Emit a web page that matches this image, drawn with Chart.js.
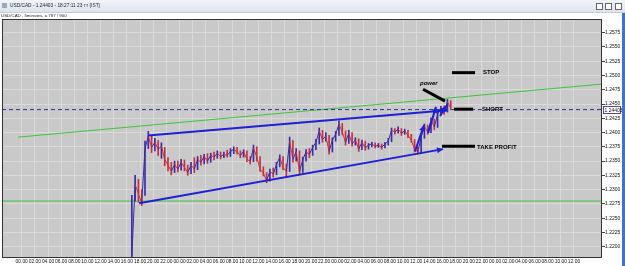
<!DOCTYPE html>
<html>
<head>
<meta charset="utf-8">
<script src="https://cdn.jsdelivr.net/npm/chart.js@4.4.1/dist/chart.umd.min.js"></script>
<style>
  html, body { margin:0; padding:0; background:#fff; }
  #wrap { position:relative; width:625px; height:266px; overflow:hidden; background:#fff; font-family:"Liberation Sans", Arial, sans-serif; }
  #chart { position:absolute; left:0; top:0; }
  #titlebar { position:absolute; left:0; top:0; width:625px; height:12px; background:linear-gradient(#f1f4f9,#dde4ee); border-bottom:1px solid #c4ccd8; font-size:4.8px; line-height:12px; color:#222; }
  #titlebar .ico { position:absolute; left:2px; top:3px; width:5px; height:5px; background:#9ab; }
  #titlebar .txt { position:absolute; left:10px; top:0; }
  #titlebar .btn { position:absolute; top:3px; width:5px; height:5px; border:1px solid #666; background:#fff; }
  #subtitle { position:absolute; left:1px; top:13px; font-size:4.4px; line-height:6px; color:#222; }
  #frame { position:absolute; right:0; top:13px; width:3px; height:253px; background:#3f72c8; }
</style>
</head>
<body>
<div id="wrap">
  <canvas id="chart" width="625" height="266"></canvas>
  <div id="titlebar">
    <div class="ico"></div>
    <div class="txt">USD/CAD - 1.24403 - 18:27:11 23 тт (IST)</div>
    <div class="btn" style="left:596px"></div>
    <div class="btn" style="left:605px"></div>
    <div class="btn" style="left:615px"></div>
  </div>
  <div id="subtitle">USD/CAD , 5minutes, a 787 / 900</div>
  <div id="frame"></div>
</div>
<script>
// time axis in hours, ticks every 2 hours
const hourMin = -3;
const hourMax = 88.26;
const priceMin = 1.2182;
const priceMax = 1.2599;

// price sampled every half hour: close, low, high
const priceStartHour = 16.75;
const priceStepHours = 0.5;
const closePrices = [
  1.2184, 1.2309, 1.2292, 1.2277, 1.2371, 1.2394, 1.2374, 1.2383, 1.2371, 1.2376,
  1.2353, 1.2343, 1.2332, 1.2344, 1.2336, 1.2348, 1.2339, 1.2330, 1.2343, 1.2336,
  1.2353, 1.2348, 1.2358, 1.2350, 1.2360, 1.2357, 1.2364, 1.2358, 1.2362, 1.2360,
  1.2367, 1.2371, 1.2366, 1.2360, 1.2367, 1.2353, 1.2350, 1.2373, 1.2357, 1.2336,
  1.2329, 1.2316, 1.2332, 1.2327, 1.2344, 1.2357, 1.2339, 1.2332, 1.2385, 1.2353,
  1.2367, 1.2332, 1.2353, 1.2366, 1.2362, 1.2374, 1.2383, 1.2403, 1.2388, 1.2394,
  1.2367, 1.2387, 1.2397, 1.2415, 1.2401, 1.2383, 1.2399, 1.2380, 1.2387, 1.2371,
  1.2383, 1.2373, 1.2378, 1.2380, 1.2376, 1.2378, 1.2374, 1.2380, 1.2385, 1.2404,
  1.2401, 1.2406, 1.2399, 1.2403, 1.2395, 1.2387, 1.2371, 1.2366, 1.2392, 1.2411,
  1.2401, 1.2422, 1.2410, 1.2432, 1.2441, 1.2436, 1.2454, 1.2443
];
const lowPrices = [
  1.2182, 1.2280, 1.2278, 1.2272, 1.2290, 1.2372, 1.2365, 1.2368, 1.2360, 1.2355,
  1.2342, 1.2333, 1.2326, 1.2330, 1.2331, 1.2334, 1.2333, 1.2325, 1.2328, 1.2330,
  1.2335, 1.2343, 1.2345, 1.2346, 1.2348, 1.2352, 1.2355, 1.2354, 1.2356, 1.2357,
  1.2358, 1.2363, 1.2362, 1.2356, 1.2357, 1.2349, 1.2345, 1.2349, 1.2350, 1.2332,
  1.2324, 1.2312, 1.2315, 1.2322, 1.2326, 1.2340, 1.2335, 1.2322, 1.2332, 1.2348,
  1.2350, 1.2326, 1.2330, 1.2350, 1.2356, 1.2360, 1.2370, 1.2380, 1.2383, 1.2385,
  1.2362, 1.2366, 1.2385, 1.2395, 1.2396, 1.2378, 1.2381, 1.2376, 1.2378, 1.2367,
  1.2370, 1.2369, 1.2371, 1.2375, 1.2373, 1.2374, 1.2371, 1.2373, 1.2378, 1.2384,
  1.2397, 1.2399, 1.2395, 1.2397, 1.2391, 1.2383, 1.2366, 1.2362, 1.2364, 1.2390,
  1.2397, 1.2400, 1.2405, 1.2409, 1.2430, 1.2432, 1.2436, 1.2440
];
const highPrices = [
  1.2290, 1.2325, 1.2318, 1.2300, 1.2385, 1.2402, 1.2395, 1.2390, 1.2386, 1.2382,
  1.2374, 1.2356, 1.2348, 1.2350, 1.2350, 1.2353, 1.2352, 1.2343, 1.2348, 1.2356,
  1.2358, 1.2360, 1.2362, 1.2363, 1.2364, 1.2366, 1.2368, 1.2366, 1.2366, 1.2369,
  1.2372, 1.2375, 1.2374, 1.2368, 1.2370, 1.2368, 1.2358, 1.2378, 1.2375, 1.2358,
  1.2340, 1.2330, 1.2336, 1.2338, 1.2348, 1.2361, 1.2358, 1.2345, 1.2392, 1.2386,
  1.2372, 1.2368, 1.2357, 1.2370, 1.2372, 1.2378, 1.2388, 1.2408, 1.2404, 1.2400,
  1.2395, 1.2391, 1.2402, 1.2420, 1.2416, 1.2403, 1.2404, 1.2400, 1.2391, 1.2389,
  1.2387, 1.2385, 1.2381, 1.2383, 1.2382, 1.2381, 1.2380, 1.2383, 1.2390, 1.2408,
  1.2407, 1.2410, 1.2407, 1.2406, 1.2404, 1.2397, 1.2388, 1.2375, 1.2396, 1.2415,
  1.2413, 1.2426, 1.2424, 1.2436, 1.2446, 1.2447, 1.2458, 1.2456
];

const lastPrice = 1.24403;
const supportLevel = 1.2280;

// trend lines: [hourStart, priceStart, hourEnd, priceEnd]
const greenTrend = [-0.55, 1.2392, 88.26, 1.2485];
const upperChannel = [19.22, 1.2395, 64.69, 1.2439];
const lowerChannel = [17.85, 1.2276, 64.08, 1.2371];
const blueArrows = [
  [59.82, 1.2367, 61.19, 1.2413],
  [61.80, 1.2399, 63.01, 1.2445],
  [63.62, 1.2429, 64.69, 1.2448]
];
const blackMarks = [
  [65.45, 1.2505, 68.95, 1.2505],
  [65.75, 1.2441, 68.65, 1.2441],
  [63.93, 1.2376, 68.95, 1.2376],
  [61.04, 1.2476, 64.38, 1.2455]
];
const noteLabels = ['STOP', 'SHORT', 'TAKE PROFIT', 'power'];
const noteHours = [70.16, 70.0, 69.25, 60.58];
const notePrices = [1.2505, 1.2441, 1.2374, 1.2487];

const UP = '#3a2ca6', DOWN = '#c8303a';
const seg = s => [{x:s[0], y:s[1]}, {x:s[2], y:s[3]}];
const priceHour = i => priceStartHour + i * priceStepHours;

const datasets = [];
blackMarks.forEach(s => datasets.push({data: seg(s), borderColor:'#000', borderWidth:3, order:0}));
blueArrows.forEach(s => datasets.push({data: seg(s), borderColor:'#1f1fd6', borderWidth:2, arrow:true, order:1}));
datasets.push({data: seg(upperChannel), borderColor:'#1f1fd6', borderWidth:2, arrow:true, order:1});
datasets.push({data: seg(lowerChannel), borderColor:'#1f1fd6', borderWidth:2, arrow:true, order:1});
datasets.push({
  data: closePrices.map((p, i) => ({x: priceHour(i), y: p})),
  borderWidth:1, borderColor:UP, order:2,
  segment: { borderColor: c => c.p1.parsed.y >= c.p0.parsed.y ? UP : DOWN }
});
datasets.push({
  type:'bar', order:2, barThickness:1,
  data: lowPrices.map((lo, i) => ({x: priceHour(i), y: [lo, highPrices[i]]})),
  backgroundColor: c => (c.dataIndex > 0 && closePrices[c.dataIndex] < closePrices[c.dataIndex - 1]) ? DOWN : UP
});
datasets.push({data: seg([hourMin, lastPrice, hourMax, lastPrice]), borderColor:'#2c2c9a', borderWidth:1, borderDash:[4,3], order:3});
datasets.push({data: seg(greenTrend), borderColor:'#3fc43f', borderWidth:1, order:4});
datasets.push({data: seg([hourMin, supportLevel, hourMax, supportLevel]), borderColor:'#3fc43f', borderWidth:1, order:4});

const bgPlugin = {
  id:'plotBg',
  beforeDraw(chart){
    const {ctx, chartArea:a} = chart;
    ctx.save();
    ctx.fillStyle = '#c9c9c9';
    ctx.fillRect(a.left, a.top, a.right - a.left, a.bottom - a.top);
    ctx.restore();
  },
  afterDraw(chart){
    const {ctx, chartArea:a, scales} = chart;
    ctx.save();
    ctx.strokeStyle = '#333';
    ctx.lineWidth = 1;
    ctx.strokeRect(a.left + 0.5, a.top + 0.5, a.right - a.left - 1, a.bottom - a.top);
    // current price box on the axis
    const y = Math.round(scales.y.getPixelForValue(lastPrice));
    ctx.fillStyle = '#fff';
    ctx.fillRect(a.right + 1, y - 4, 18, 8);
    ctx.strokeStyle = '#5a3c9a';
    ctx.strokeRect(a.right + 1.5, y - 3.5, 17, 7);
    ctx.fillStyle = '#111';
    ctx.font = '5px "Liberation Sans"';
    ctx.textBaseline = 'middle';
    ctx.fillText(lastPrice.toFixed(5), a.right + 2.5, y + 0.5);
    ctx.restore();
  }
};

const arrowPlugin = {
  id:'arrows',
  afterDatasetsDraw(chart){
    const ctx = chart.ctx;
    chart.data.datasets.forEach((ds, i) => {
      if (!ds.arrow) return;
      const pts = chart.getDatasetMeta(i).data;
      const a = pts[pts.length - 2], b = pts[pts.length - 1];
      const ang = Math.atan2(b.y - a.y, b.x - a.x);
      const L = 6, W = 3;
      ctx.save();
      ctx.fillStyle = ds.borderColor;
      ctx.beginPath();
      ctx.moveTo(b.x, b.y);
      ctx.lineTo(b.x - L*Math.cos(ang) + W*Math.sin(ang), b.y - L*Math.sin(ang) - W*Math.cos(ang));
      ctx.lineTo(b.x - L*Math.cos(ang) - W*Math.sin(ang), b.y - L*Math.sin(ang) + W*Math.cos(ang));
      ctx.closePath();
      ctx.fill();
      ctx.restore();
    });
    // text notes
    const {x, y} = chart.scales;
    ctx.save();
    ctx.fillStyle = '#000';
    ctx.textBaseline = 'middle';
    noteLabels.forEach((t, i) => {
      ctx.font = (t === 'power' ? 'italic bold ' : 'bold ') + '6px "Liberation Sans"';
      ctx.fillText(t, x.getPixelForValue(noteHours[i]), y.getPixelForValue(notePrices[i]));
    });
    ctx.restore();
  }
};

new Chart(document.getElementById('chart'), {
  type:'line',
  data:{ datasets },
  options:{
    responsive:false,
    animation:false,
    layout:{ padding:{ top:19, left:2, right:0, bottom:0 } },
    elements:{ point:{ radius:0 }, line:{ tension:0 } },
    plugins:{ legend:{ display:false }, tooltip:{ enabled:false } },
    scales:{
      x:{
        type:'linear', min:hourMin, max:hourMax, offset:false,
        border:{ display:false },
        grid:{ color:'#dadada', drawTicks:false, offset:false },
        ticks:{
          stepSize:2, includeBounds:false, autoSkip:false, maxRotation:0, padding:2,
          color:'#111', font:{ family:'"Liberation Sans"', size:4.9 },
          callback: v => (v < 0 || v > 84) ? null : String(((v % 24) + 24) % 24).padStart(2, '0') + '.00'
        },
        afterFit: s => { s.height = 9; }
      },
      y:{
        position:'right', min:priceMin, max:priceMax,
        border:{ display:false },
        grid:{ color:'#dadada', tickLength:3, tickColor:'#444' },
        ticks:{
          stepSize:0.0025, includeBounds:false, padding:0,
          color:'#111', font:{ family:'"Liberation Sans"', size:5 },
          callback: v => v.toFixed(4)
        },
        afterFit: s => { s.width = 23; }
      }
    }
  },
  plugins:[bgPlugin, arrowPlugin]
});
</script>
</body>
</html>
